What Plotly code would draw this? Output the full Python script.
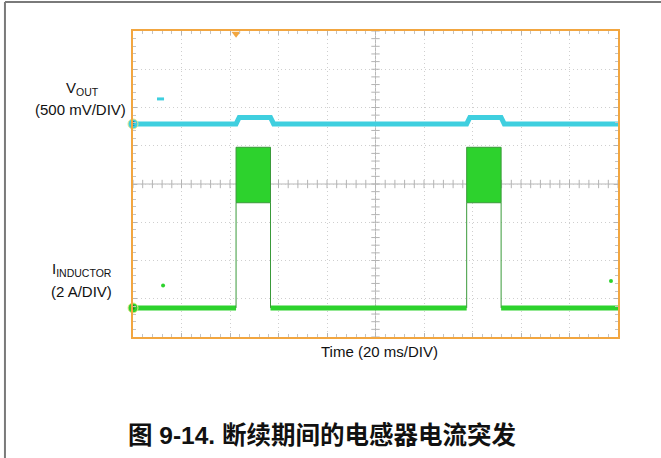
import numpy as np
import plotly.graph_objects as go

# Scope setup
time_per_div_ms = 20
n_xdiv = 10
n_ydiv = 8
vout_scale_mV = 500      # mV per division
il_scale_A = 2           # A per division
vout_ground_div = 5.57   # channel-2 ground marker position (divisions from bottom)
il_ground_div = 0.76     # channel-4 ground marker position

# Burst timing (ms)
burst_start_ms = [42.5, 137.6]
burst_end_ms = [56.7, 151.8]

# Output voltage (AC offset, mV)
vout_idle_mV = 0
vout_burst_mV = 85
vout_edge_ms = 1.3

# Inductor current (A)
il_idle_A = 0
il_burst_min_A = 5.5
il_burst_max_A = 8.4

# Isolated sample points
vout_glitch_ms = [9.9, 12.8]
vout_glitch_mV = [327, 327]
il_glitch_ms = [12.4, 197.1]
il_glitch_A = [1.17, 1.41]

t_end = time_per_div_ms * n_xdiv

CYAN = "#3fcfdf"
GREEN = "#2dd22d"
DKGREEN = "#3a9a3a"
ORANGE = "#f2a640"
GRID = "#cfcfcf"
TICK = "#b4b4b4"

fig = go.Figure()

# ---- V_OUT trace ----
vt, vv = [0.0], [vout_idle_mV]
for s, e in zip(burst_start_ms, burst_end_ms):
    vt += [s, s + vout_edge_ms, e, e + vout_edge_ms]
    vv += [vout_idle_mV, vout_burst_mV, vout_burst_mV, vout_idle_mV]
vt.append(t_end)
vv.append(vout_idle_mV)
fig.add_trace(go.Scatter(x=vt, y=vv, yaxis="y3", mode="lines",
                         line=dict(color=CYAN, width=5), hoverinfo="skip"))
fig.add_trace(go.Scatter(x=vout_glitch_ms, y=vout_glitch_mV, yaxis="y3", mode="lines",
                         line=dict(color=CYAN, width=3), hoverinfo="skip"))

# ---- Inductor current: idle baseline between bursts ----
idle_edges = [0.0] + [v for pair in zip(burst_start_ms, burst_end_ms) for v in pair] + [t_end]
bt, bi = [], []
for a, b in zip(idle_edges[0::2], idle_edges[1::2]):
    bt += [a, b, None]
    bi += [il_idle_A, il_idle_A, None]
fig.add_trace(go.Scatter(x=bt, y=bi, yaxis="y2", mode="lines",
                         line=dict(color=GREEN, width=5), hoverinfo="skip"))

# burst edges (thin)
et, ei = [], []
for s, e in zip(burst_start_ms, burst_end_ms):
    et += [s, s, None, e, e, None]
    ei += [il_idle_A, il_burst_min_A, None, il_idle_A, il_burst_min_A, None]
fig.add_trace(go.Scatter(x=et, y=ei, yaxis="y2", mode="lines",
                         line=dict(color=DKGREEN, width=1), hoverinfo="skip"))

# burst envelope (switching ripple band)
for s, e in zip(burst_start_ms, burst_end_ms):
    fig.add_trace(go.Scatter(x=[s, e, e, s, s],
                             y=[il_burst_min_A, il_burst_min_A, il_burst_max_A, il_burst_max_A, il_burst_min_A],
                             yaxis="y2", mode="lines", fill="toself", fillcolor=GREEN,
                             line=dict(color=DKGREEN, width=1), hoverinfo="skip"))

fig.add_trace(go.Scatter(x=il_glitch_ms, y=il_glitch_A, yaxis="y2", mode="markers",
                         marker=dict(color=GREEN, size=4), hoverinfo="skip"))

# ---- graticule centre-line ticks ----
fig.add_trace(go.Scatter(x=np.arange(0, t_end + 0.01, time_per_div_ms / 5),
                         y=[n_ydiv / 2] * (n_xdiv * 5 + 1), mode="markers",
                         marker=dict(symbol="line-ns-open", size=6, color=TICK,
                                     line=dict(color=TICK, width=1)),
                         hoverinfo="skip"))
fig.add_trace(go.Scatter(x=[t_end / 2] * (n_ydiv * 5 + 1),
                         y=np.arange(0, n_ydiv + 0.01, 0.2), mode="markers",
                         marker=dict(symbol="line-ew-open", size=6, color=TICK,
                                     line=dict(color=TICK, width=1)),
                         hoverinfo="skip"))

# ---- channel ground markers and trigger marker ----
fig.add_trace(go.Scatter(x=[0], y=[vout_idle_mV], yaxis="y3", mode="markers+text",
                         text=["2"], textfont=dict(size=7, color="#206060"),
                         marker=dict(color=CYAN, size=10, line=dict(color="#e8e890", width=1)),
                         cliponaxis=False, hoverinfo="skip"))
fig.add_trace(go.Scatter(x=[0], y=[il_idle_A], yaxis="y2", mode="markers+text",
                         text=["4"], textfont=dict(size=7, color="#206020"),
                         marker=dict(color=GREEN, size=10, line=dict(color="#e8e890", width=1)),
                         cliponaxis=False, hoverinfo="skip"))
fig.add_trace(go.Scatter(x=[burst_start_ms[0]], y=[n_ydiv - 0.07], mode="markers",
                         marker=dict(symbol="triangle-down", color=ORANGE, size=8),
                         cliponaxis=False, hoverinfo="skip"))

axis_common = dict(showgrid=True, gridcolor=GRID, griddash="1px,3px", gridwidth=1,
                   showticklabels=False, zeroline=False, showline=True,
                   linecolor=ORANGE, linewidth=2, mirror="ticks", ticks="inside",
                   ticklen=4, tickcolor=TICK)

fig.update_layout(
    width=661, height=458,
    margin=dict(l=133, r=43, t=31, b=121),
    paper_bgcolor="white", plot_bgcolor="white",
    showlegend=False,
    font=dict(family="Liberation Sans, Arial, sans-serif", color="#111111"),
    xaxis=dict(range=[0, t_end], dtick=time_per_div_ms,
               minor=dict(dtick=time_per_div_ms / 5, ticklen=3, tickcolor="#c4c4c4", ticks="inside"),
               **axis_common),
    yaxis=dict(range=[0, n_ydiv], dtick=1,
               minor=dict(dtick=0.2, ticklen=3, tickcolor="#c4c4c4", ticks="inside"),
               **axis_common),
    yaxis2=dict(overlaying="y", visible=False,
                range=[-il_ground_div * il_scale_A, (n_ydiv - il_ground_div) * il_scale_A]),
    yaxis3=dict(overlaying="y", visible=False,
                range=[-vout_ground_div * vout_scale_mV, (n_ydiv - vout_ground_div) * vout_scale_mV]),
    shapes=[
        dict(type="line", xref="x", yref="y", x0=t_end / 2, x1=t_end / 2, y0=0, y1=n_ydiv,
             line=dict(color="#b8b8b8", width=1), layer="below"),
        dict(type="line", xref="x", yref="y", x0=0, x1=t_end, y0=n_ydiv / 2, y1=n_ydiv / 2,
             line=dict(color="#b8b8b8", width=1), layer="below"),
        # outer figure frame
        dict(type="line", xref="paper", yref="paper", x0=-0.264, x1=-0.264, y0=-0.5, y1=1.095,
             line=dict(color="#7a7a7a", width=2)),
        dict(type="line", xref="paper", yref="paper", x0=-0.264, x1=1.2, y0=1.095, y1=1.095,
             line=dict(color="#7a7a7a", width=2)),
    ],
)

def label(text, px, py, size=15, **kw):
    fig.add_annotation(text=text, xref="paper", yref="paper",
                       x=(px - 133) / 485, y=(337 - py) / 306,
                       xanchor="center", yanchor="middle", showarrow=False,
                       font=dict(size=size, **kw))

label("V<sub>OUT</sub>", 82, 88)
label("(500 mV/DIV)", 80.5, 109)
label("I<sub>INDUCTOR</sub>", 82, 269)
label("(2 A/DIV)", 81.5, 291.5)
label("Time (20 ms/DIV)", 379, 351)
label("<b>图 9-14. 断续期间的电感器电流突发</b>", 322, 435, size=24.5,
      family="Liberation Sans, Noto Sans CJK SC, sans-serif")

fig.write_html("out.html")
